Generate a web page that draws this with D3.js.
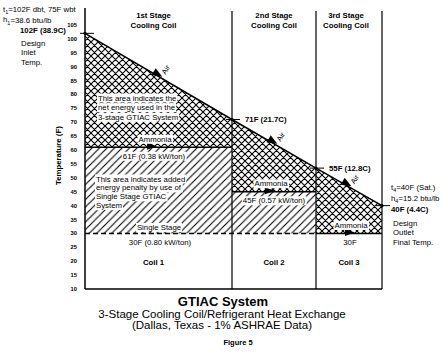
<!DOCTYPE html>
<html>
<head>
<meta charset="utf-8">
<script src="https://cdn.jsdelivr.net/npm/d3@7"></script>
<style>
  body { margin: 0; background: #fff; }
  svg { font-family: "Liberation Sans", Arial, Helvetica, sans-serif; }
</style>
</head>
<body>
<svg id="chart" width="445" height="353"></svg>
<script>
// chart values
const coils = ["Coil 1", "Coil 2", "Coil 3"]
const stageTitles = ["1st Stage", "2nd Stage", "3rd Stage"]
const coilEdges = [0, 147, 231, 297]          // position along the air path (coil boundaries)
const airTemps = [102, 71, 53.5, 40]          // air temperature at each coil boundary (F)
const ammoniaTemps = [61, 45, 30]             // refrigerant temperature in each coil (F)
const ammoniaLabels = ["61F (0.38 kW/ton)", "45F (0.57 kW/ton)", "30F"]
const singleStageTemp = 30
const singleStageLabel = "30F (0.80 kW/ton)"
const pointLabels = ["", "71F (21.7C)", "55F (12.8C)", ""]
const yTicks = d3.range(10, 106, 5)

const svg = d3.select("#chart")

let x = d3.scaleLinear().domain([0, 297]).range([85, 382]),
    y = d3.scaleLinear().domain([10, 105]).range([289, 25])

// hatch patterns
const defs = svg.append("defs")
let cross = defs.append("pattern")
    .attr("id", "cross").attr("patternUnits", "userSpaceOnUse")
    .attr("width", 7).attr("height", 7)
cross.append("path").attr("d", "M0,0L7,7M0,7L7,0M-1,1L1,-1M6,8L8,6M-1,6L1,8M6,-1L8,1")
    .attr("stroke", "#000").attr("stroke-width", 1.1)

let diag = defs.append("pattern")
    .attr("id", "diag").attr("patternUnits", "userSpaceOnUse")
    .attr("width", 7.5).attr("height", 7.5)
diag.append("path").attr("d", "M0,7.5L7.5,0M-2,2L2,-2M5.5,9.5L9.5,5.5")
    .attr("stroke", "#000").attr("stroke-width", 1.1)

// crosshatched area: between air line and the staged ammonia line
let crossPts = coilEdges.map((e, i) => [x(e), y(airTemps[i])])
for (let i = coils.length - 1; i >= 0; i--) {
    crossPts.push([x(coilEdges[i + 1]), y(ammoniaTemps[i])])
    crossPts.push([x(coilEdges[i]), y(ammoniaTemps[i])])
}
svg.append("path")
    .attr("d", d3.line()(crossPts) + "Z")
    .attr("fill", "url(#cross)")

// single-hatched area: between staged ammonia line and single stage line
let diagPts = []
coils.forEach((c, i) => {
    diagPts.push([x(coilEdges[i]), y(ammoniaTemps[i])])
    diagPts.push([x(coilEdges[i + 1]), y(ammoniaTemps[i])])
})
diagPts.push([x(coilEdges[3]), y(singleStageTemp)])
diagPts.push([x(coilEdges[0]), y(singleStageTemp)])
svg.append("path")
    .attr("d", d3.line()(diagPts) + "Z")
    .attr("fill", "url(#diag)")

// frame lines
svg.append("line")
    .attr("x1", x(0)).attr("x2", x(0)).attr("y1", 8).attr("y2", y(10))
    .attr("stroke", "#000").attr("stroke-width", 1.5)
coilEdges.slice(1).forEach(e => {
    svg.append("line")
        .attr("x1", x(e)).attr("x2", x(e)).attr("y1", 11).attr("y2", y(10))
        .attr("stroke", "#000").attr("stroke-width", 1.2)
})
svg.append("line")
    .attr("x1", x(0)).attr("x2", x(297)).attr("y1", y(10)).attr("y2", y(10))
    .attr("stroke", "#000").attr("stroke-width", 1.5)

// ammonia stage lines
coils.forEach((c, i) => {
    svg.append("line")
        .attr("x1", x(coilEdges[i])).attr("x2", x(coilEdges[i + 1]))
        .attr("y1", y(ammoniaTemps[i])).attr("y2", y(ammoniaTemps[i]))
        .attr("stroke", "#000").attr("stroke-width", 1.5)
})
// single stage dashed line
svg.append("line")
    .attr("x1", x(coilEdges[0])).attr("x2", x(coilEdges[2]))
    .attr("y1", y(singleStageTemp)).attr("y2", y(singleStageTemp))
    .attr("stroke", "#000").attr("stroke-width", 1.5)
    .attr("stroke-dasharray", "5,3")

// air line
svg.append("path")
    .datum(airTemps)
    .attr("fill", "none")
    .attr("stroke", "#000")
    .attr("stroke-width", 1.5)
    .attr("d", d3.line().x((d, i) => x(coilEdges[i])).y(d => y(d)))

// point markers
airTemps.forEach((t, i) => {
    let px = x(coilEdges[i]), py = y(t)
    svg.append("line")
        .attr("x1", px - (i == 0 ? 5 : 6)).attr("x2", px + (i == 0 ? 9 : 8))
        .attr("y1", py).attr("y2", py)
        .attr("stroke", "#000").attr("stroke-width", 1)
    svg.append("circle").attr("cx", px).attr("cy", py).attr("r", 1.6).attr("fill", "#000")
})

// arrows
function triangle(cx, cy, angle, len, wid) {
    let a = angle * Math.PI / 180
    let dx = Math.cos(a), dy = Math.sin(a)
    let tip = [cx + dx * len / 2, cy + dy * len / 2],
        b1 = [cx - dx * len / 2 - dy * wid / 2, cy - dy * len / 2 + dx * wid / 2],
        b2 = [cx - dx * len / 2 + dy * wid / 2, cy - dy * len / 2 - dx * wid / 2]
    svg.append("path").attr("d", d3.line()([tip, b1, b2]) + "Z").attr("fill", "#000")
}
const airArrowPos = [73, 188, 262]
airArrowPos.forEach((p, k) => {
    let i = k
    let t = airTemps[i] + (airTemps[i + 1] - airTemps[i]) * (p - coilEdges[i]) / (coilEdges[i + 1] - coilEdges[i])
    let px = x(p), py = y(t)
    let ang = Math.atan2(y(airTemps[i + 1]) - y(airTemps[i]), x(coilEdges[i + 1]) - x(coilEdges[i])) * 180 / Math.PI
    triangle(px, py - 2, ang, 10, 8)
    svg.append("text")
        .attr("transform", `translate(${px + 10},${py - 5}) rotate(-58)`)
        .attr("font-size", 7.5).attr("text-anchor", "middle")
        .text("Air")
})
const ammoniaArrowPos = [67, 185, 265]
ammoniaArrowPos.forEach((p, i) => triangle(x(p), y(ammoniaTemps[i]) - 1, 0, 10, 7))

// text helper with white backing box
function label(txt, px, py, opts = {}) {
    let t = svg.append("text")
        .attr("x", px).attr("y", py)
        .attr("font-size", opts.size || 7.8)
        .attr("font-weight", opts.bold ? "bold" : "normal")
        .attr("text-anchor", opts.anchor || "start")
        .attr("dominant-baseline", "central")
        .text(txt)
    if (opts.box) {
        let b = t.node().getBBox()
        svg.insert("rect", () => t.node())
            .attr("x", b.x - 1).attr("y", b.y).attr("width", b.width + 2).attr("height", b.height)
            .attr("fill", "#fff")
    }
    return t
}

// y axis tick labels
yTicks.forEach(v => label(v, 77, y(v), { size: 5.8, bold: true, anchor: "end" }))
svg.append("text")
    .attr("transform", `translate(58,${y(58)}) rotate(-90)`)
    .attr("text-anchor", "middle").attr("dominant-baseline", "central")
    .attr("font-size", 7.8).attr("font-weight", "bold")
    .text("Temperature  (F)")

// stage headers and coil names
coils.forEach((c, i) => {
    let cx = (x(coilEdges[i]) + x(coilEdges[i + 1])) / 2 + (i == 0 ? -5 : i == 2 ? -3 : 0)
    label(stageTitles[i], cx, 15, { bold: true, anchor: "middle", size: 7.8 })
    label("Cooling Coil", cx, 25, { bold: true, anchor: "middle", size: 7.8 })
    label(c, cx + (i == 2 ? 3 : 0), 262, { bold: true, anchor: "middle", size: 7.8 })
})

// boundary point labels
pointLabels.forEach((s, i) => {
    if (s) label(s, x(coilEdges[i]) + 13, y(airTemps[i]), { bold: true, size: 7.8 })
})

// inlet annotation
let t1 = label("t", 3, 9, { size: 7.8 })
t1.append("tspan").attr("font-size", 5.5).attr("dy", 3).text("1")
t1.append("tspan").attr("dy", -3).text("=102F dbt, 75F wbt")
let h1 = label("h", 3, 19.5, { size: 7.8 })
h1.append("tspan").attr("font-size", 5.5).attr("dy", 3).text("1")
h1.append("tspan").attr("dy", -3).text("=38.6 btu/lb")
label("102F (38.9C)", 20, 30, { bold: true, size: 7.8 })
label("Design", 21, 43, { size: 7.8 })
label("Inlet", 21, 52.5, { size: 7.8 })
label("Temp.", 21, 62, { size: 7.8 })

// outlet annotation
let t4 = label("t", 391, 187, { size: 7.8 })
t4.append("tspan").attr("font-size", 5.5).attr("dy", 3).text("4")
t4.append("tspan").attr("dy", -3).text("=40F (Sat.)")
let h4 = label("h", 391, 198, { size: 7.8 })
h4.append("tspan").attr("font-size", 5.5).attr("dy", 3).text("4")
h4.append("tspan").attr("dy", -3).text("=15.2 btu/lb")
label("40F (4.4C)", 391, 209, { bold: true, size: 7.8 })
label("Design", 393, 223, { size: 7.8 })
label("Outlet", 393, 232.5, { size: 7.8 })
label("Final Temp.", 393, 242, { size: 7.8 })

// area notes
;["This area indicates the", "net energy used in the", "3-stage GTIAC System"]
    .forEach((s, i) => label(s, 98, 98 + i * 9.7, { box: true }))
;["This area indicates added", "energy penalty by use of", "Single Stage GTIAC", "System"]
    .forEach((s, i) => label(s, 96, 179 + i * 8.9, { box: true }))

// ammonia labels
const ammoniaNameX = [155, 271, 351]
const ammoniaValX = [154, 274, 350]
coils.forEach((c, i) => {
    label("Ammonia", ammoniaNameX[i], y(ammoniaTemps[i]) - 8, { anchor: "middle", box: true })
    label(ammoniaLabels[i], ammoniaValX[i], y(ammoniaTemps[i]) + 9, { anchor: "middle", box: true })
})
label("Single Stage", 159, y(singleStageTemp) - 6, { anchor: "middle", box: true })
label(singleStageLabel, 160, y(singleStageTemp) + 9, { anchor: "middle" })

// titles
label("GTIAC System", 223, 301, { bold: true, size: 13, anchor: "middle" })
label("3-Stage Cooling Coil/Refrigerant Heat Exchange", 222, 314, { size: 11.5, anchor: "middle" })
label("(Dallas, Texas - 1% ASHRAE Data)", 222, 325, { size: 11.5, anchor: "middle" })
label("Figure 5", 238, 342, { bold: true, size: 7.5, anchor: "middle" })
</script>
</body>
</html>
